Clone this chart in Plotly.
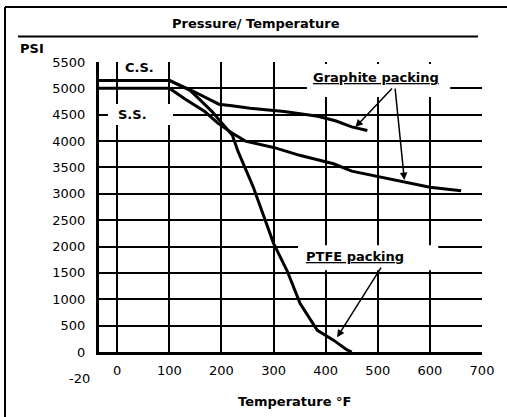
import plotly.graph_objects as go

# ---- data ----
temp_cs_graphite = [-35, 100, 145, 170, 195, 220, 255, 320, 385, 420, 450, 480]
psi_cs_graphite = [5150, 5150, 4950, 4820, 4700, 4670, 4625, 4560, 4470, 4380, 4270, 4200]

temp_ss_graphite = [-35, 90, 100, 130, 168, 193, 221, 246, 300, 350, 415, 450, 500, 550, 600, 660]
psi_ss_graphite = [5000, 5010, 5000, 4800, 4560, 4340, 4150, 4000, 3880, 3730, 3570, 3430, 3330, 3220, 3125, 3060]

temp_ptfe = [100, 140, 158, 182, 201, 221, 232, 261, 300, 326, 351, 384, 415, 441, 450]
psi_ptfe = [5150, 4960, 4790, 4560, 4340, 4110, 3800, 3130, 2060, 1540, 920, 410, 225, 40, 0]

x_ticks = [0, 100, 200, 300, 400, 500, 600, 700]
y_ticks = [0, 500, 1000, 1500, 2000, 2500, 3000, 3500, 4000, 4500, 5000, 5500]

FONT = "DejaVu Sans"

fig = go.Figure()
for xs, ys in [(temp_cs_graphite, psi_cs_graphite),
               (temp_ss_graphite, psi_ss_graphite),
               (temp_ptfe, psi_ptfe)]:
    fig.add_trace(go.Scatter(x=xs, y=ys, mode="lines",
                             line=dict(color="black", width=3, shape="linear"),
                             showlegend=False, hoverinfo="skip"))

# white label boxes (above grid, below traces)
boxes = [(5, 91.6, 5234, 5614), (-17.9, 107, 4305, 4703),
         (364, 639, 4836, 5462), (347, 616, 1551, 2026)]
shapes = []
for x0, x1, y0, y1 in boxes:
    shapes.append(dict(type="rect", xref="x", yref="y", x0=x0, x1=x1, y0=y0, y1=y1,
                       fillcolor="white", line=dict(width=0), layer="between"))
# figure frame (top & left) and title underline
shapes.append(dict(type="line", xref="paper", yref="paper", x0=-0.2454, x1=1.1, y0=1.1897, y1=1.1897,
                   line=dict(color="black", width=2)))
shapes.append(dict(type="line", xref="paper", yref="paper", x0=-0.2454, x1=-0.2454, y0=1.1897, y1=-0.3,
                   line=dict(color="black", width=2)))
shapes.append(dict(type="line", xref="paper", yref="paper", x0=-0.2115, x1=0.9896, y0=1.088, y1=1.088,
                   line=dict(color="black", width=2)))

bold = dict(family=FONT, size=13, color="black")
annotations = [
    dict(text="<b>Pressure/ Temperature</b>", xref="paper", yref="paper", x=0.411, y=1.133,
         showarrow=False, font=bold, xanchor="center", yanchor="middle"),
    dict(text="<b>PSI</b>", xref="paper", yref="paper", x=-0.2115, y=1.048,
         showarrow=False, font=bold, xanchor="left", yanchor="middle"),
    dict(text="<b>Temperature °F</b>", xref="paper", yref="paper", x=0.5104, y=-0.169,
         showarrow=False, font=bold, xanchor="center", yanchor="middle"),
    dict(text="-20", xref="paper", yref="paper", x=-0.018, y=-0.0897,
         showarrow=False, font=dict(family=FONT, size=13, color="black"), xanchor="right", yanchor="middle"),
    dict(text="<b>C.S.</b>", x=43.6, y=5405, showarrow=False, font=bold),
    dict(text="<b>S.S.</b>", x=30, y=4513, showarrow=False, font=bold),
    dict(text="<b><u>Graphite packing</u></b>", x=497, y=5200, showarrow=False, font=bold),
    dict(text="<b><u>PTFE packing</u></b>", x=457, y=1817, showarrow=False, font=bold),
]
arrows = [((530, 5025), (457, 4266)), ((533, 5025), (551, 3262)), ((508, 1627), (422, 280))]
for (ax, ay), (tx, ty) in arrows:
    annotations.append(dict(text="", x=tx, y=ty, ax=ax, ay=ay, axref="x", ayref="y",
                            showarrow=True, arrowhead=2, arrowsize=1, arrowwidth=1.5,
                            arrowcolor="black", standoff=0))

fig.update_layout(
    width=507, height=417,
    margin=dict(l=99, r=25, t=62, b=65),
    paper_bgcolor="white", plot_bgcolor="white",
    font=dict(family=FONT, size=13, color="black"),
    shapes=shapes, annotations=annotations,
    xaxis=dict(range=[-35, 700], tickvals=x_ticks, showgrid=True, gridcolor="black", gridwidth=2,
               showline=True, linecolor="black", linewidth=3, zeroline=False, ticks="",
               ticklabelstandoff=4,
               tickfont=dict(family=FONT, size=13, color="black")),
    yaxis=dict(range=[0, 5500], tickvals=y_ticks, showgrid=True, gridcolor="black", gridwidth=2,
               showline=True, linecolor="black", linewidth=3, zeroline=False, ticks="",
               ticklabelstandoff=8,
               tickfont=dict(family=FONT, size=13, color="black")),
)

fig.write_html("out.html", config={"displayModeBar": False},
               post_script="document.body.style.margin='0px';")
